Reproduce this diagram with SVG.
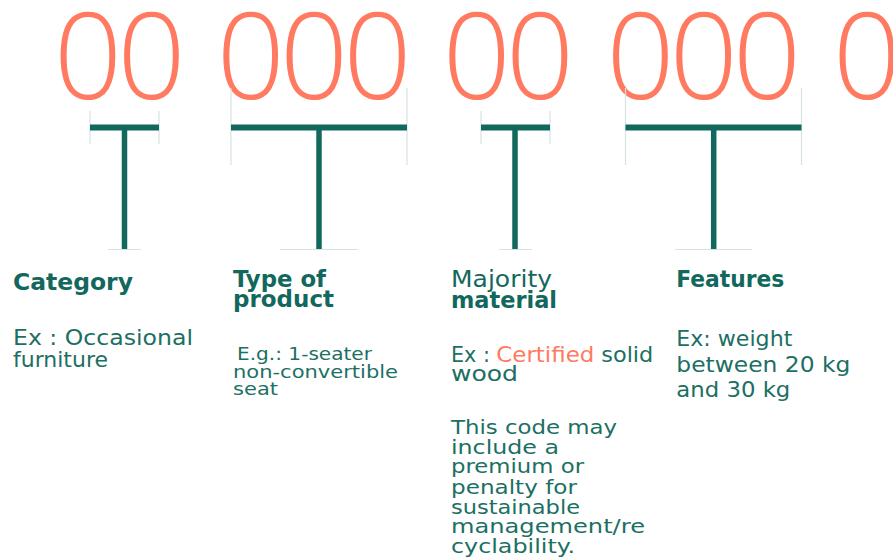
<svg xmlns="http://www.w3.org/2000/svg" width="893" height="557" viewBox="0 0 893 557">
<style>
.dig{font-family:"Open Sans","Liberation Sans",sans-serif;font-weight:300;font-size:120px;fill:#ff7a60;text-anchor:middle}
.h{font-family:"DejaVu Sans","Liberation Sans",sans-serif;font-weight:bold;font-size:23px;fill:#12685d}
.hr{font-family:"DejaVu Sans","Liberation Sans",sans-serif;font-weight:normal;font-size:23px;fill:#12685d}
.b{font-family:"DejaVu Sans","Liberation Sans",sans-serif;font-size:21px;fill:#1c6f63}
.s{font-family:"DejaVu Sans","Liberation Sans",sans-serif;font-size:17px;fill:#1c6f63}
.m{font-family:"DejaVu Sans","Liberation Sans",sans-serif;font-size:20px;fill:#1c6f63}
.hl{fill:#ff7a60}
.bar{stroke:#12685d;stroke-width:6;fill:none}
.stem{stroke:#12685d;stroke-width:5.5;fill:none}
.tick{stroke:#d6e4e1;stroke-width:1.2;fill:none}
</style>
<rect width="893" height="557" fill="#ffffff"/>
<g id="digits">
<text class="dig" x="88 151.5" y="98.5">00</text>
<text class="dig" x="250.8 314.1 377.4" y="98.5">000</text>
<text class="dig" x="476.8 540.1" y="98.5">00</text>
<text class="dig" x="640.5 703.8 767.1" y="98.5">000</text>
<text class="dig" x="867" y="98.5">0</text>
</g>
<g id="connectors">
<line class="tick" x1="90" y1="111" x2="90" y2="144"/>
<line class="tick" x1="159" y1="111" x2="159" y2="144"/>
<line class="tick" x1="108" y1="249.5" x2="141" y2="249.5"/>
<line class="bar" x1="90" y1="127.5" x2="159" y2="127.5"/>
<line class="stem" x1="124.5" y1="127.5" x2="124.5" y2="249"/>

<line class="tick" x1="231" y1="88" x2="231" y2="165"/>
<line class="tick" x1="407" y1="88" x2="407" y2="165"/>
<line class="tick" x1="280" y1="249.5" x2="358" y2="249.5"/>
<line class="bar" x1="231" y1="127.5" x2="407" y2="127.5"/>
<line class="stem" x1="319" y1="127.5" x2="319" y2="249"/>

<line class="tick" x1="481" y1="111" x2="481" y2="144"/>
<line class="tick" x1="550" y1="111" x2="550" y2="144"/>
<line class="tick" x1="499" y1="249.5" x2="532" y2="249.5"/>
<line class="bar" x1="481" y1="127.5" x2="550" y2="127.5"/>
<line class="stem" x1="515" y1="127.5" x2="515" y2="249"/>

<line class="tick" x1="625.5" y1="88" x2="625.5" y2="165"/>
<line class="tick" x1="801.5" y1="88" x2="801.5" y2="165"/>
<line class="tick" x1="675" y1="249.5" x2="752" y2="249.5"/>
<line class="bar" x1="625.5" y1="127.5" x2="801.5" y2="127.5"/>
<line class="stem" x1="713.7" y1="127.5" x2="713.7" y2="249"/>
</g>
<g id="category">
<text class="h" x="13" y="289.5" textLength="120" lengthAdjust="spacingAndGlyphs">Category</text>
<text class="b" x="13" y="345" textLength="180" lengthAdjust="spacingAndGlyphs">Ex : Occasional</text>
<text class="b" x="13" y="367.3" textLength="95" lengthAdjust="spacingAndGlyphs">furniture</text>
</g>
<g id="type-of-product">
<text class="h" x="233" y="286.7" textLength="93" lengthAdjust="spacingAndGlyphs">Type of</text>
<text class="h" x="233" y="306.7" textLength="101" lengthAdjust="spacingAndGlyphs">product</text>
<text class="s" x="237" y="360" textLength="135" lengthAdjust="spacingAndGlyphs">E.g.: 1-seater</text>
<text class="s" x="233" y="378.3" textLength="165" lengthAdjust="spacingAndGlyphs">non-convertible</text>
<text class="s" x="233" y="395" textLength="45" lengthAdjust="spacingAndGlyphs">seat</text>
</g>
<g id="majority-material">
<text class="hr" x="451" y="287.3" textLength="101" lengthAdjust="spacingAndGlyphs">Majority</text>
<text class="h" x="451" y="308.3" textLength="106" lengthAdjust="spacingAndGlyphs">material</text>
<text class="b" x="451" y="361.7" textLength="39" lengthAdjust="spacingAndGlyphs">Ex :</text>
<text class="b hl" x="496.3" y="361.7" textLength="98" lengthAdjust="spacingAndGlyphs">Certified</text>
<text class="b" x="601.3" y="361.7" textLength="52" lengthAdjust="spacingAndGlyphs">solid</text>
<text class="b" x="451" y="380.7" textLength="67" lengthAdjust="spacingAndGlyphs">wood</text>
<text class="m" x="451" y="434" textLength="166" lengthAdjust="spacingAndGlyphs">This code may</text>
<text class="m" x="451" y="453.5" textLength="108" lengthAdjust="spacingAndGlyphs">include a</text>
<text class="m" x="451" y="473.3" textLength="133" lengthAdjust="spacingAndGlyphs">premium or</text>
<text class="m" x="451" y="493.5" textLength="126" lengthAdjust="spacingAndGlyphs">penalty for</text>
<text class="m" x="451" y="514" textLength="129" lengthAdjust="spacingAndGlyphs">sustainable</text>
<text class="m" x="451" y="533.3" textLength="194" lengthAdjust="spacingAndGlyphs">management/re</text>
<text class="m" x="451" y="552.7" textLength="124" lengthAdjust="spacingAndGlyphs">cyclability.</text>
</g>
<g id="features">
<text class="h" x="676.3" y="287.3" textLength="108" lengthAdjust="spacingAndGlyphs">Features</text>
<text class="b" x="676.3" y="346" textLength="116" lengthAdjust="spacingAndGlyphs">Ex: weight</text>
<text class="b" x="676.3" y="371.7" textLength="174" lengthAdjust="spacingAndGlyphs">between 20 kg</text>
<text class="b" x="676.3" y="397.3" textLength="114" lengthAdjust="spacingAndGlyphs">and 30 kg</text>
</g>
</svg>
